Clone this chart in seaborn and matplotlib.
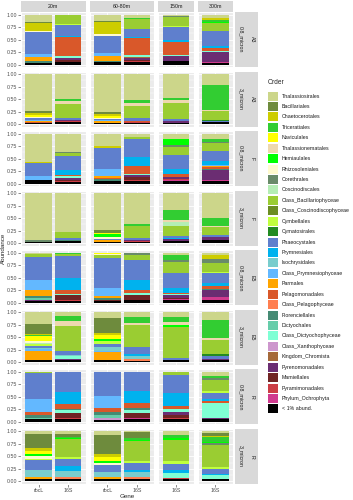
import pandas as pd
import seaborn as sns
import matplotlib.pyplot as plt
from matplotlib.patches import Rectangle

sns.set_style('darkgrid', {'axes.facecolor': '#EBEBEB', 'grid.color': 'white'})
plt.rcParams['font.family'] = ['Liberation Sans', 'DejaVu Sans']

# legend order (first = top of stack)
ORDERS = ['Thalassiosirales', 'Bacillariales', 'Chaetocerotales', 'Triceratiales', 'Naviculales',
          'Thalassionematales', 'Hemiaulales', 'Rhizosoleniales', 'Corethrales', 'Coscinodiscales',
          'Class_Bacillariophyceae', 'Class_Coscinodiscophyceae', 'Cymbellales', 'Cymatosirales',
          'Phaeocystales', 'Prymnesiales', 'Isochrysidales', 'Class_Prymnesiophyceae', 'Parmales',
          'Pelagomonadales', 'Class_Pelagophyceae', 'Florenciellales', 'Dictyochales',
          'Class_Dictyochophyceae', 'Class_Xanthophyceae', 'Kingdom_Chromista', 'Pyrenomonadales',
          'Mamiellales', 'Pyramimonadales', 'Phylum_Ochrophyta', '< 1% abund.']
CODES = ['Thal', 'Baci', 'Chae', 'Tric', 'Navi', 'Tnem', 'Hemi', 'Rhiz', 'Core', 'Cosc',
         'CBac', 'CCos', 'Cymb', 'Cyma', 'Phae', 'Prym', 'Isoc', 'CPry', 'Parm', 'Pelm',
         'CPel', 'Flor', 'Dict', 'CDic', 'CXan', 'KChr', 'Pyre', 'Mami', 'Pyra', 'POch', 'Rare']
COLORS = ['#CCD68A', '#6E8B3D', '#CDCD00', '#32CD32', '#FFFF00', '#EED8AE', '#00FF00', '#FFFACD',
          '#698B69', '#B4EEB4', '#9ACD32', '#6B8E23', '#C0FF3E', '#228B22', '#5F7FCD', '#00B2EE',
          '#79CDCD', '#63B8FF', '#FFA500', '#D9582A', '#FF7F50', '#458B74', '#66CDAA', '#7FFFD4',
          '#CD96CD', '#A5693A', '#6B2D72', '#702424', '#CC3D45', '#D03A8E', '#000000']

DEPTHS = ['20m', '60-80m', '150m', '300m']
GENES = ['rbcL', '16S']
ROWS = [('A3', '0.8_micron'), ('A3', '3_micron'), ('F', '0.8_micron'), ('F', '3_micron'),
        ('E5', '0.8_micron'), ('E5', '3_micron'), ('R', '0.8_micron'), ('R', '3_micron')]

# relative abundance per bar
a3_08 = {
    ('20m', 'rbcL'): dict(Rare=.04, Flor=.03, Parm=.09, CPry=.05, Phae=.45, Rhiz=.02, Chae=.15, Baci=.03, Thal=.14),
    ('20m', '16S'): dict(Rare=.05, Pyra=.01, Mami=.04, Pyre=.04, CDic=.03, Flor=.01, Pelm=.37, Prym=.02, Phae=.22, Cymb=.02, CBac=.19),
    ('60-80m', 'rbcL'): dict(Rare=.05, Flor=.03, Parm=.09, CPry=.06, Phae=.34, Rhiz=.04, Chae=.24, Baci=.02, Thal=.13),
    ('60-80m', '16S'): dict(Rare=.05, Pyra=.02, Mami=.03, Pyre=.04, KChr=.02, CDic=.04, Pelm=.33, Prym=.03, Phae=.16, CBac=.19, Tric=.03, Thal=.06),
    ('150m', '16S'): dict(Rare=.07, Pyre=.10, CDic=.02, Pelm=.27, Prym=.03, Phae=.26, Cymb=.02, CBac=.19, Core=.02, Thal=.02),
    ('300m', '16S'): dict(Rare=.03, POch=.02, Pyre=.20, CDic=.03, Pelm=.05, Prym=.04, Phae=.30, CBac=.17, Hemi=.02, Tric=.03, Chae=.05, Thal=.06),
}
a3_3 = {
    ('20m', 'rbcL'): dict(Rare=.03, Parm=.03, Pelm=.01, CPry=.02, Phae=.03, Rhiz=.02, Navi=.05, Chae=.04, Baci=.04, Thal=.73),
    ('20m', '16S'): dict(Rare=.04, Pyra=.02, Pyre=.02, Phae=.04, CBac=.28, Tnem=.07, Tric=.04, Thal=.49),
    ('60-80m', 'rbcL'): dict(Rare=.03, Parm=.04, CPry=.02, Phae=.02, Rhiz=.01, Navi=.05, Chae=.03, Baci=.05, Thal=.75),
    ('60-80m', '16S'): dict(Rare=.03, Pyra=.01, Pelm=.02, Phae=.06, CBac=.25, Tnem=.06, Tric=.05, Thal=.52),
    ('150m', '16S'): dict(Rare=.03, Pyre=.03, Phae=.04, CBac=.32, Tnem=.06, Tric=.05, Thal=.47),
    ('300m', '16S'): dict(Rare=.04, Phae=.02, Cyma=.03, CBac=.17, Tnem=.02, Tric=.50, Thal=.22),
}
f_08 = {
    ('20m', 'rbcL'): dict(Rare=.08, CPry=.07, Phae=.26, Chae=.02, Thal=.57),
    ('20m', '16S'): dict(Rare=.04, Pyra=.02, Mami=.02, Pyre=.04, CDic=.03, Pelm=.03, Prym=.09, Phae=.28, CBac=.07, Core=.02, Thal=.36),
    ('60-80m', 'rbcL'): dict(Rare=.05, Flor=.04, Pelm=.02, Parm=.04, CPry=.15, Phae=.42, Chae=.03, Thal=.25),
    ('60-80m', '16S'): dict(Rare=.05, Pyra=.02, Mami=.06, Pyre=.05, CDic=.02, Pelm=.15, Prym=.18, Phae=.36, CBac=.04, Thal=.07),
    ('150m', '16S'): dict(Rare=.05, POch=.02, Pyra=.02, Pyre=.05, Pelm=.06, Prym=.10, Phae=.28, CBac=.15, Core=.04, Hemi=.12, Thal=.11),
    ('300m', '16S'): dict(Rare=.05, POch=.02, Pyre=.21, Flor=.02, Pelm=.04, Parm=.01, CPry=.03, Prym=.07, Phae=.20, CBac=.17, Core=.02, Tric=.05, Thal=.11),
}
f_3 = {
    ('20m', 'rbcL'): dict(Rare=.03, Core=.03, Thal=.94),
    ('20m', '16S'): dict(Rare=.05, Flor=.02, Phae=.04, CBac=.11, Thal=.78),
    ('60-80m', 'rbcL'): dict(Rare=.03, Parm=.03, Phae=.03, Rhiz=.03, Hemi=.07, Navi=.02, Baci=.05, Thal=.74),
    ('60-80m', '16S'): dict(Rare=.03, Pyra=.01, Pyre=.02, Phae=.04, CBac=.24, Tric=.05, Thal=.61),
    ('150m', '16S'): dict(Rare=.05, Pyre=.03, Prym=.02, Phae=.05, CBac=.19, Cosc=.08, Tnem=.05, Tric=.20, Thal=.33),
    ('300m', '16S'): dict(Rare=.07, Pyre=.05, Phae=.04, CBac=.17, Tnem=.02, Tric=.16, Thal=.49),
}
e5_08 = {
    ('20m', 'rbcL'): dict(Rare=.03, Pyre=.02, Dict=.04, Flor=.05, Parm=.11, CPry=.20, Phae=.46, CBac=.06, Thal=.03),
    ('20m', '16S'): dict(Rare=.04, Pyra=.01, Mami=.10, CDic=.03, Pelm=.08, Prym=.23, Phae=.44, CBac=.04, Tric=.03),
    ('60-80m', 'rbcL'): dict(Rare=.04, Mami=.01, Flor=.05, Parm=.04, CPry=.16, Phae=.59, CBac=.06, Rhiz=.02, Navi=.03),
    ('60-80m', '16S'): dict(Rare=.05, Mami=.10, CDic=.05, Pelm=.06, Prym=.20, Phae=.40, CBac=.09, Core=.05),
    ('150m', '16S'): dict(Rare=.05, POch=.02, Pyra=.01, Mami=.02, Pyre=.05, CDic=.02, Pelm=.03, Prym=.10, Phae=.30, CBac=.22, Core=.04, Tric=.09, Thal=.05),
    ('300m', '16S'): dict(Rare=.05, POch=.07, Pyre=.14, Flor=.02, Pelm=.05, Prym=.07, Phae=.19, Cymb=.02, CBac=.18, Core=.09, Chae=.07, Thal=.05),
}
e5_3 = {
    ('20m', 'rbcL'): dict(Rare=.04, Parm=.19, CPry=.03, Isoc=.02, Phae=.05, Cymb=.03, Cosc=.02, Rhiz=.04, Navi=.10, Tric=.03, Chae=.02, Baci=.19, Thal=.24),
    ('20m', '16S'): dict(Rare=.05, Pyre=.02, CDic=.05, Isoc=.02, Phae=.09, CBac=.50, Tnem=.09, Tric=.11, Thal=.07),
    ('60-80m', 'rbcL'): dict(Rare=.04, Parm=.16, CPry=.03, Isoc=.07, Phae=.07, Cymb=.05, Hemi=.05, Navi=.08, Chae=.04, Baci=.29, Thal=.12),
    ('60-80m', '16S'): dict(Rare=.03, CPel=.03, Isoc=.07, Prym=.03, Phae=.14, CCos=.01, CBac=.44, Tnem=.03, Tric=.12, Thal=.10),
    ('150m', '16S'): dict(Rare=.04, Phae=.05, CBac=.62, Hemi=.03, Tnem=.06, Tric=.10, Thal=.10),
    ('300m', '16S'): dict(Rare=.05, Pyre=.02, Phae=.05, Cyma=.04, CBac=.28, Tnem=.05, Tric=.36, Thal=.15),
}
r_08 = {
    ('20m', 'rbcL'): dict(Rare=.05, Dict=.03, Flor=.05, Pelm=.07, CPry=.26, Phae=.52, CBac=.02),
    ('20m', '16S'): dict(Rare=.05, Pyra=.02, Mami=.11, CDic=.06, Flor=.02, Pelm=.09, Prym=.25, Phae=.40),
    ('60-80m', 'rbcL'): dict(Rare=.03, CXan=.04, Dict=.06, Flor=.06, Pelm=.09, CPry=.23, Phae=.49),
    ('60-80m', '16S'): dict(Rare=.05, POch=.03, Mami=.10, CDic=.06, Flor=.03, Pelm=.10, Prym=.24, Phae=.39),
    ('150m', '16S'): dict(Rare=.05, Pyra=.02, Mami=.06, Pyre=.07, CDic=.05, Pelm=.07, Prym=.26, Phae=.36, CBac=.06),
    ('300m', '16S'): dict(Rare=.05, Pyre=.02, CDic=.31, Pelm=.04, Prym=.04, Phae=.12, Cymb=.04, CBac=.22, Core=.04, Tric=.04, Thal=.08),
}
r_3 = {
    ('20m', 'rbcL'): dict(Rare=.04, Pyra=.01, Parm=.03, Isoc=.14, Phae=.20, Cymb=.02, Rhiz=.06, Hemi=.05, Navi=.06, Chae=.06, Baci=.28, Thal=.05),
    ('20m', '16S'): dict(Rare=.04, CPel=.04, Isoc=.12, Prym=.11, Phae=.14, Cymb=.03, CBac=.36, Hemi=.02, Tric=.03, Baci=.06, Thal=.05),
    ('60-80m', 'rbcL'): dict(Rare=.04, Parm=.04, Isoc=.10, Phae=.14, Rhiz=.05, Hemi=.04, Navi=.07, Chae=.06, Baci=.38, Thal=.08),
    ('60-80m', '16S'): dict(Rare=.04, CPel=.04, Isoc=.10, Prym=.04, Phae=.15, Cymb=.04, CBac=.39, Hemi=.02, Tric=.05, Baci=.11, Thal=.02),
    ('150m', '16S'): dict(Rare=.05, Pyra=.01, CDic=.10, Prym=.06, Phae=.13, Cymb=.05, CCos=.01, CBac=.41, Hemi=.04, Tric=.07, Thal=.07),
    ('300m', '16S'): dict(Rare=.05, CDic=.07, Prym=.02, Phae=.11, Cymb=.03, CBac=.45, Core=.04, Hemi=.01, Tric=.10, Chae=.02, Baci=.07, Thal=.03),
}
PANELS = [a3_08, a3_3, f_08, f_3, e5_08, e5_3, r_08, r_3]

# long table
code2name = dict(zip(CODES, ORDERS))
recs = []
for (site, size), panel in zip(ROWS, PANELS):
    for (depth, gene), vals in panel.items():
        for code, v in vals.items():
            recs.append((site, size, depth, gene, code2name[code], v))
df = pd.DataFrame(recs, columns=['Site', 'Size', 'Depth', 'Gene', 'Order', 'Abundance'])
pal = dict(zip(ORDERS, COLORS))

W, H = 353, 500
FS = 3.8
fig = plt.figure(figsize=(W / 100, H / 100), dpi=100)
gs = fig.add_gridspec(8, 4, left=21 / W, right=233 / W, top=1 - 12 / H, bottom=1 - 484 / H,
                      width_ratios=[2.2, 2.2, 1.2, 1.2], hspace=0.083, wspace=0.08)

for r, (site, size) in enumerate(ROWS):
    for c, depth in enumerate(DEPTHS):
        ax = fig.add_subplot(gs[r, c])
        sub = df[(df.Site == site) & (df.Size == size) & (df.Depth == depth)].copy()
        genes = [g for g in GENES if g in set(sub.Gene)]
        sub['Gene'] = pd.Categorical(sub['Gene'], categories=genes)
        sns.histplot(data=sub, x='Gene', hue='Order', weights='Abundance', multiple='stack',
                     discrete=True, shrink=0.9, hue_order=ORDERS, palette=pal, alpha=1,
                     linewidth=0, legend=False, ax=ax)
        ax.set_xlim(-0.6, len(genes) - 0.4)
        ax.set_ylim(-0.05, 1.05)
        ax.set_xticks(range(len(genes)))
        ax.set_xticklabels(genes)
        ax.set_yticks([0, 0.25, 0.5, 0.75, 1.0])
        ax.set_yticklabels(['0.00', '0.25', '0.50', '0.75', '1.00'])
        ax.set_yticks([0.125, 0.375, 0.625, 0.875], minor=True)
        ax.grid(which='major', color='white', lw=0.6)
        ax.grid(which='minor', axis='y', color='white', lw=0.3)
        ax.set_xlabel('')
        ax.set_ylabel('')
        ax.tick_params(axis='both', which='major', length=2, width=0.4, color='#333333',
                       labelsize=FS, labelcolor='#4D4D4D', pad=1)
        ax.tick_params(axis='x', pad=0.6)
        ax.tick_params(axis='y', which='minor', left=False)
        ax.tick_params(axis='y', left=(c == 0), labelleft=(c == 0))
        ax.tick_params(axis='x', bottom=(r == 7), labelbottom=(r == 7))

        pos = ax.get_position()
        if r == 0:
            fig.add_artist(Rectangle((pos.x0, pos.y1), pos.width, 11 / H, transform=fig.transFigure,
                                     facecolor='#D9D9D9', edgecolor='none'))
            fig.text(pos.x0 + pos.width / 2, pos.y1 + 5.5 / H, depth, ha='center', va='center',
                     fontsize=FS, color='#1A1A1A')
        if c == 3:
            fig.add_artist(Rectangle((234.5 / W, pos.y0), 23 / W, pos.height, transform=fig.transFigure,
                                     facecolor='#D9D9D9', edgecolor='none'))
            ym = pos.y0 + pos.height / 2
            fig.text(241 / W, ym, size, rotation=-90, ha='center', va='center',
                     fontsize=FS, color='#1A1A1A')
            fig.text(252 / W, ym, site, rotation=-90, ha='center', va='center',
                     fontsize=FS, color='#1A1A1A')

fig.text(3.2 / W, 1 - 248 / H, 'Abundance', rotation=90, ha='center', va='center', fontsize=4.5)
fig.text(127 / W, 1 - 496.5 / H, 'Gene', ha='center', va='center', fontsize=4.5)

# legend: keys and labels
fig.text(268 / W, 1 - 83 / H, 'Order', ha='left', va='center', fontsize=4.7)
for i, (name, col) in enumerate(zip(ORDERS, COLORS)):
    yc = 96 + i * 10.43
    fig.add_artist(Rectangle((268 / W, 1 - (yc + 4.5) / H), 9.5 / W, 9 / H, transform=fig.transFigure,
                             facecolor=col, edgecolor='none'))
    fig.text(282 / W, 1 - yc / H, name, ha='left', va='center', fontsize=FS, color='#1A1A1A')

plt.savefig('out.png', dpi=100)
